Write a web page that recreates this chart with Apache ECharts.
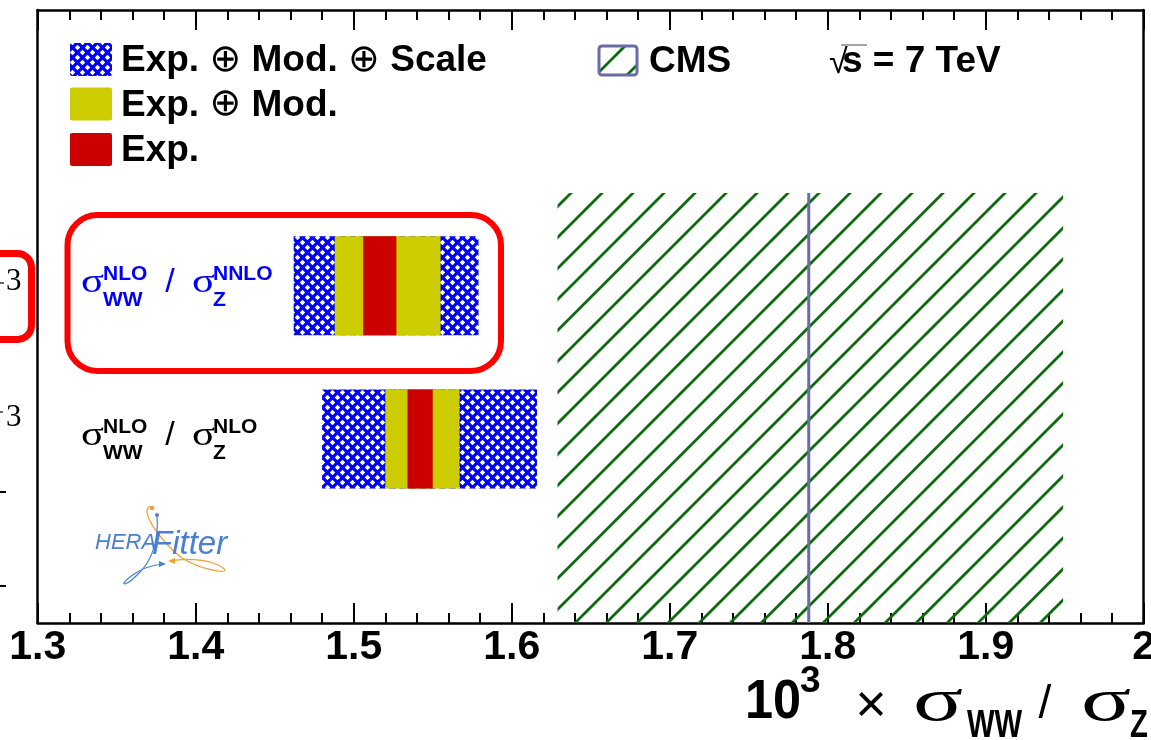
<!DOCTYPE html>
<html><head><meta charset="utf-8">
<script src="https://cdn.jsdelivr.net/npm/echarts@6/dist/echarts.min.js"></script>
<style>html,body{margin:0;padding:0;background:#fff}#c{width:1151px;height:740px}</style>
</head><body><div id="c"></div>
<script>
// ---------------- data ----------------
const rowNames = ['NLO/NNLO', 'NLO/NLO'];      // top row, bottom row
const rowPos = [2, 1];                          // row index on the vertical axis
const totalLo  = [1.462, 1.480];                // Exp. ⊕ Mod. ⊕ Scale
const totalHi  = [1.579, 1.616];
const expModLo = [1.488, 1.520];                // Exp. ⊕ Mod.
const expModHi = [1.555, 1.567];
const expLo    = [1.506, 1.534];                // Exp.
const expHi    = [1.527, 1.550];
const cmsCentral = [1.788];
const cmsLo      = [1.629];
const cmsHi      = [1.949];
const xTickLabels = ['1.3','1.4','1.5','1.6','1.7','1.8','1.9','2'];
const legendParts = [['Exp.', 'Mod.', 'Scale'], ['Exp.', 'Mod.'], ['Exp.']];
const rowSup1 = ['NLO', 'NLO'];
const rowSub1 = ['WW', 'WW'];
const rowSup2 = ['NNLO', 'NLO'];
const rowSub2 = ['Z', 'Z'];

// ---------------- layout / style ----------------
const L = { left: 37.7, right: 7.3, top: 10, bottom: 117, yMin: -0.2, yMax: 3.8, halfH: 0.323, cmsTop: 2.606 };
const FONT = '"Liberation Sans", Arial, sans-serif';
const SERIF = '"Liberation Serif", "Times New Roman", serif';
const rowColors = ['#0000ff', '#000000'];
const YEL = '#cccc00', RED = '#cc0000', BLUE = '#0000ff', GREEN = '#0d6b0d', LAV = '#6b6ba8';

function makeBlue() {
  const c = document.createElement('canvas'); c.width = 10; c.height = 10;
  const g = c.getContext('2d');
  g.fillStyle = BLUE; g.fillRect(0, 0, 10, 10);
  g.fillStyle = '#ffffff';
  [[2.5, 2.5], [7.5, 7.5]].forEach(([hx, hy]) => {
    const r = 2.7; g.beginPath();
    g.moveTo(hx, hy - r); g.lineTo(hx + r, hy); g.lineTo(hx, hy + r); g.lineTo(hx - r, hy);
    g.closePath(); g.fill();
  });
  return c;
}
function makeGreen() {
  const P = 31; const c = document.createElement('canvas'); c.width = P; c.height = P;
  const g = c.getContext('2d');
  g.strokeStyle = GREEN; g.lineWidth = 2.7; g.lineCap = 'butt';
  [20 - P, 20, 20 + P, 20 + 2 * P].forEach(s => {
    g.beginPath(); g.moveTo(-6, s + 6); g.lineTo(s + 6, -6); g.stroke();
  });
  return c;
}
const bluePat = { image: makeBlue(), repeat: 'repeat' };
const greenPat = { image: makeGreen(), repeat: 'repeat' };

function band(fill) {
  return function (params, api) {
    const y = api.value(0), lo = api.value(1), hi = api.value(2);
    const a = api.coord([lo, y + L.halfH]), b = api.coord([hi, y - L.halfH]);
    return { type: 'rect', shape: { x: a[0], y: a[1], width: b[0] - a[0], height: b[1] - a[1] }, style: { fill: fill } };
  };
}

const chart = echarts.init(document.getElementById('c'), null, { renderer: 'canvas' });

const xCommon = {
  type: 'value', min: 1.3, max: 2.0, interval: 0.1,
  axisLine: { show: true, onZero: false, lineStyle: { color: '#000', width: 2.5 } },
  axisTick: { show: true, inside: true, length: 20, lineStyle: { color: '#000', width: 2 } },
  minorTick: { show: true, splitNumber: 5, length: 10, lineStyle: { color: '#000', width: 2 } },
  splitLine: { show: false }, minorSplitLine: { show: false }
};
const yCommon = {
  type: 'value', min: L.yMin, max: L.yMax,
  axisLine: { show: true, onZero: false, lineStyle: { color: '#000', width: 2.5 } },
  axisTick: { show: false }, axisLabel: { show: false }, splitLine: { show: false }
};

chart.setOption({
  animation: false,
  backgroundColor: '#ffffff',
  grid: { left: L.left, right: L.right, top: L.top, bottom: L.bottom, containLabel: false, outerBoundsMode: 'none' },
  xAxis: [
    Object.assign({}, xCommon, {
      position: 'bottom',
      axisLabel: {
        show: true, margin: 4, color: '#000', fontSize: 41, fontWeight: 'bold', fontFamily: FONT,
        showMinLabel: true, showMaxLabel: true, hideOverlap: false,
        formatter: v => { const i = Math.round((v - 1.3) / 0.1); return xTickLabels[i] !== undefined ? xTickLabels[i] : ''; }
      }
    }),
    Object.assign({}, xCommon, { position: 'top', axisLabel: { show: false } })
  ],
  yAxis: [
    Object.assign({}, yCommon, { position: 'left' }),
    Object.assign({}, yCommon, { position: 'right' })
  ],
  series: [
    { type: 'custom', name: 'CMS', z: 1, xAxisIndex: 0, yAxisIndex: 0,
      encode: { x: [0, 1, 2], y: 3 },
      data: cmsCentral.map((c, i) => [cmsLo[i], cmsHi[i], c, 0]),
      renderItem: function (params, api) {
        const lo = api.value(0), hi = api.value(1), c = api.value(2);
        const a = api.coord([lo, L.cmsTop]), b = api.coord([hi, L.yMin]);
        const t = api.coord([c, L.cmsTop]), u = api.coord([c, L.yMin]);
        return { type: 'group', children: [
          { type: 'rect', shape: { x: a[0], y: a[1], width: b[0] - a[0], height: b[1] - a[1] }, style: { fill: greenPat } },
          { type: 'line', shape: { x1: t[0], y1: t[1], x2: u[0], y2: u[1] }, style: { stroke: LAV, lineWidth: 3 } }
        ] };
      }
    },
    { type: 'custom', name: 'Exp. \u2295 Mod. \u2295 Scale', z: 2, encode: { x: [1, 2], y: 0 },
      data: rowPos.map((r, i) => [r, totalLo[i], totalHi[i]]), renderItem: band(bluePat) },
    { type: 'custom', name: 'Exp. \u2295 Mod.', z: 3, encode: { x: [1, 2], y: 0 },
      data: rowPos.map((r, i) => [r, expModLo[i], expModHi[i]]), renderItem: band(YEL) },
    { type: 'custom', name: 'Exp.', z: 4, encode: { x: [1, 2], y: 0 },
      data: rowPos.map((r, i) => [r, expLo[i], expHi[i]]), renderItem: band(RED) }
  ]
});

// ---------------- text / annotations ----------------
function txt(x, y, text, size, opts) {
  opts = opts || {};
  const el = {
    type: 'text', x: x, y: y, z: 50,
    style: {
      text: text, fontSize: size, fontFamily: opts.family || FONT,
      fontWeight: opts.weight || 'normal', fontStyle: opts.style || 'normal',
      fill: opts.color || '#000', align: opts.align || 'left', verticalAlign: 'middle'
    }
  };
  if (opts.sx) { el.scaleX = opts.sx; }
  return el;
}

const g = [];
// legend (left)
const legFills = [bluePat, YEL, RED];
const legY = [60, 104.5, 150];
const legRich = {
  b: { fontSize: 37, fontWeight: 'bold', fontFamily: FONT, fill: '#000', color: '#000' },
  o: { fontSize: 38, fontWeight: 'normal', fontFamily: '"DejaVu Sans", sans-serif', fill: '#000', color: '#000' }
};
legFills.forEach((f, i) => {
  g.push({ type: 'rect', z: 50, shape: { x: 70, y: legY[i] - 17, width: 42, height: 33, r: 2 }, style: { fill: f } });
  const s = legendParts[i].map(p => '{b|' + p + '}').join('{b| }{o|\u2295}{b| }');
  g.push({ type: 'text', z: 50, x: 121, y: legY[i] + 1,
    style: { text: s, rich: legRich, align: 'left', verticalAlign: 'middle', fontSize: 37, fontFamily: FONT } });
});
// CMS legend
g.push({ type: 'rect', z: 50, shape: { x: 599, y: 46, width: 38, height: 29, r: 3 }, style: { fill: greenPat, stroke: LAV, lineWidth: 3 } });
g.push(txt(649, 62, 'CMS', 37, { weight: 'bold' }));
// sqrt(s) = 7 TeV
g.push(txt(829, 64, '\u221A', 34, { color: '#000' }));
g.push({ type: 'line', z: 50, shape: { x1: 841, y1: 45, x2: 867, y2: 45 }, style: { stroke: '#888', lineWidth: 1.5 } });
g.push(txt(842, 62, 's = 7 TeV', 37, { weight: 'bold' }));

// row labels, positioned from the vertical axis
rowPos.forEach((r, i) => {
  const yc = chart.convertToPixel({ yAxisIndex: 0 }, r);
  const col = rowColors[i];
  g.push(txt(81, yc - 3, '\u03C3', 34, { color: col, sx: 1.25, family: SERIF }));
  g.push(txt(103, yc - 12, rowSup1[i], 21, { color: col, weight: 'bold' }));
  g.push(txt(103, yc + 14, rowSub1[i], 21, { color: col, weight: 'bold' }));
  g.push(txt(170, yc - 3, '/', 34, { color: col, align: 'center' }));
  g.push(txt(192, yc - 3, '\u03C3', 34, { color: col, sx: 1.25, family: SERIF }));
  g.push(txt(213, yc - 12, rowSup2[i], 21, { color: col, weight: 'bold' }));
  g.push(txt(213, yc + 14, rowSub2[i], 21, { color: col, weight: 'bold' }));
});

// highlight box around the NNLO row
g.push({ type: 'rect', z: 40, shape: { x: 67.5, y: 215, width: 433.5, height: 156, r: 30 }, style: { fill: 'none', stroke: '#ff0000', lineWidth: 6 } });

// cropped fragments at the left edge (neighbouring panel)
g.push({ type: 'rect', z: 40, shape: { x: -60, y: 253.5, width: 91.5, height: 86, r: 14 }, style: { fill: 'none', stroke: '#ff0000', lineWidth: 7 } });
g.push(txt(6, 282, '3', 31, { family: SERIF }));
g.push(txt(6, 418, '3', 31, { family: SERIF }));
g.push({ type: 'line', z: 50, shape: { x1: 0, y1: 283, x2: 4, y2: 283 }, style: { stroke: '#000', lineWidth: 1.2 } });
g.push({ type: 'line', z: 50, shape: { x1: 0, y1: 412, x2: 3, y2: 412 }, style: { stroke: '#000', lineWidth: 1.2 } });
g.push({ type: 'line', z: 50, shape: { x1: 0, y1: 492, x2: 6, y2: 492 }, style: { stroke: '#000', lineWidth: 2 } });
g.push({ type: 'line', z: 50, shape: { x1: 0, y1: 586, x2: 6, y2: 586 }, style: { stroke: '#000', lineWidth: 2 } });

// HERAFitter logo
const LB = '#4a80d0', LO = '#f0a030';
g.push(txt(95, 543, 'HERA', 22, { color: LB, style: 'italic' }));
g.push(txt(152, 545, 'Fitter', 33, { color: LB, style: 'italic' }));
g.push({ type: 'bezierCurve', z: 49, shape: { x1: 150, y1: 506, cpx1: 138, cpy1: 512, cpx2: 165, cpy2: 545, x2: 182, y2: 558 }, style: { stroke: LO, lineWidth: 1.3, fill: 'none' } });
g.push({ type: 'bezierCurve', z: 49, shape: { x1: 182, y1: 558, cpx1: 205, cpy1: 572, cpx2: 240, cpy2: 576, x2: 218, y2: 565 }, style: { stroke: LO, lineWidth: 1.3, fill: 'none' } });
g.push({ type: 'bezierCurve', z: 49, shape: { x1: 218, y1: 565, cpx1: 205, cpy1: 559, cpx2: 185, cpy2: 558, x2: 170, y2: 561 }, style: { stroke: LO, lineWidth: 1.3, fill: 'none' } });
g.push({ type: 'circle', z: 49, shape: { cx: 152, cy: 508, r: 2.3 }, style: { fill: LO } });
g.push({ type: 'polygon', z: 49, shape: { points: [[168, 561], [175, 558], [175, 564]] }, style: { fill: LO } });
g.push({ type: 'bezierCurve', z: 49, shape: { x1: 157, y1: 515, cpx1: 159, cpy1: 540, cpx2: 152, cpy2: 560, x2: 140, y2: 572 }, style: { stroke: LB, lineWidth: 1.2, fill: 'none' } });
g.push({ type: 'bezierCurve', z: 49, shape: { x1: 140, y1: 572, cpx1: 125, cpy1: 588, cpx2: 118, cpy2: 586, x2: 130, y2: 577 }, style: { stroke: LB, lineWidth: 1.2, fill: 'none' } });
g.push({ type: 'bezierCurve', z: 49, shape: { x1: 130, y1: 577, cpx1: 140, cpy1: 569, cpx2: 152, cpy2: 565, x2: 163, y2: 564 }, style: { stroke: LB, lineWidth: 1.2, fill: 'none' } });
g.push({ type: 'circle', z: 49, shape: { cx: 157, cy: 515, r: 2 }, style: { fill: LB } });
g.push({ type: 'polygon', z: 49, shape: { points: [[166, 564], [159, 561], [159, 567]] }, style: { fill: LB } });

// axis title  10^3 x sigma_WW / sigma_Z
g.push(txt(745, 703, '10', 56, { weight: 'bold', sx: 0.9 }));
g.push(txt(800, 682, '3', 37, { weight: 'bold' }));
g.push(txt(871, 707, '\u00D7', 54, { align: 'center' }));
g.push(txt(913, 704, '\u03C3', 62, { sx: 1.5, family: SERIF }));
g.push(txt(967, 727, 'WW', 38, { weight: 'bold', sx: 0.77 }));
g.push(txt(1045, 705, '/', 46, { align: 'center' }));
g.push(txt(1081, 704, '\u03C3', 62, { sx: 1.5, family: SERIF }));
g.push(txt(1130, 727, 'Z', 38, { weight: 'bold', sx: 0.77 }));

chart.setOption({ graphic: { elements: g } });
</script>
</body></html>
